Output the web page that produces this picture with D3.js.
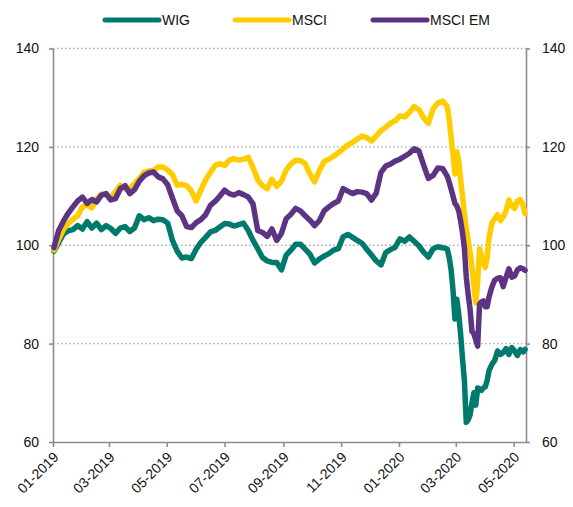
<!DOCTYPE html>
<html><head><meta charset="utf-8">
<script src="https://cdn.jsdelivr.net/npm/d3@7"></script>
<style>body{margin:0;background:#fff}svg{display:block}text{font-family:"Liberation Sans",Arial,sans-serif}</style>
</head><body><svg id="c" width="573" height="507"></svg>
<script>
const dates = [
"2019-01-02","2019-01-07","2019-01-12","2019-01-17","2019-01-22","2019-01-27","2019-02-01","2019-02-06","2019-02-11","2019-02-16",
"2019-02-21","2019-02-26","2019-03-03","2019-03-08","2019-03-13","2019-03-18","2019-03-23","2019-03-28","2019-04-02","2019-04-07",
"2019-04-12","2019-04-17","2019-04-22","2019-04-27","2019-05-02","2019-05-07","2019-05-12","2019-05-17","2019-05-22","2019-05-27",
"2019-06-01","2019-06-06","2019-06-11","2019-06-16","2019-06-21","2019-06-26","2019-07-01","2019-07-06","2019-07-11","2019-07-16",
"2019-07-21","2019-07-26","2019-07-31","2019-08-05","2019-08-10","2019-08-15","2019-08-20","2019-08-25","2019-08-30","2019-09-04",
"2019-09-09","2019-09-14","2019-09-19","2019-09-24","2019-09-29","2019-10-04","2019-10-09","2019-10-14","2019-10-19","2019-10-24",
"2019-10-29","2019-11-03","2019-11-08","2019-11-13","2019-11-18","2019-11-23","2019-11-28","2019-12-03","2019-12-08","2019-12-13",
"2019-12-18","2019-12-23","2019-12-28",
"2020-01-02","2020-01-07","2020-01-12","2020-01-17","2020-01-22","2020-01-27","2020-02-01","2020-02-06","2020-02-11","2020-02-16","2020-02-21",
"2020-02-23","2020-02-25","2020-02-27","2020-02-29","2020-03-02","2020-03-04","2020-03-06","2020-03-08","2020-03-10","2020-03-12","2020-03-14",
"2020-03-16","2020-03-18","2020-03-20","2020-03-22","2020-03-24","2020-03-26","2020-03-28","2020-03-30","2020-04-01","2020-04-03","2020-04-05",
"2020-04-08","2020-04-11","2020-04-14","2020-04-17","2020-04-20","2020-04-23","2020-04-26","2020-04-29","2020-05-02","2020-05-05","2020-05-08","2020-05-11","2020-05-13"
];
const wig = [
98.8,100.5,102.3,102.9,103.2,104.0,103.3,104.8,103.5,104.5,
103.2,104.0,103.4,102.4,103.5,103.8,102.8,103.5,106.0,105.2,
105.6,105.0,105.3,105.2,104.5,101.0,98.8,97.4,97.6,97.3,
99.2,100.6,101.6,102.7,103.0,103.7,104.4,104.3,103.9,104.2,
104.5,103.0,101.0,99.3,97.5,96.8,96.5,96.5,95.0,98.0,
99.0,100.2,100.2,99.2,98.2,96.4,97.2,97.8,98.3,99.0,
99.3,101.7,102.2,101.6,101.0,100.4,99.2,98.0,96.8,96.0,
98.5,99.1,99.6,
101.3,100.8,101.7,100.8,99.9,98.6,97.6,99.3,99.7,99.5,99.2,
97.5,95.0,90.9,85.0,89.0,86.0,82.0,77.0,72.5,64.0,64.5,
65.5,68.0,70.0,67.5,71.0,70.8,70.5,71.0,71.2,72.5,74.5,
75.8,76.6,78.5,77.8,78.2,79.0,77.8,79.2,78.5,77.6,78.8,78.3,78.8
];
const msci = [
99.0,101.2,103.2,104.4,105.3,106.0,107.8,108.2,107.6,109.4,
110.4,110.2,109.6,110.9,112.2,111.5,111.6,112.5,113.6,114.8,
115.1,115.2,115.9,115.9,115.3,114.4,112.2,112.4,112.1,111.0,
109.0,111.2,113.3,114.8,116.2,116.6,116.2,117.3,117.6,117.3,
117.5,117.9,115.8,113.3,112.1,111.5,113.4,112.0,113.0,115.3,
116.5,117.3,117.2,116.6,114.5,112.9,115.2,117.0,117.5,118.1,
118.8,119.6,120.4,120.9,121.6,122.2,121.9,121.2,122.2,123.3,
124.0,124.8,125.3,
126.3,126.1,127.0,128.2,127.6,125.9,124.8,127.7,128.9,129.3,128.2,
125.5,122.0,118.5,114.5,119.0,117.0,113.5,110.0,106.5,103.2,101.0,
98.5,95.5,92.0,88.3,92.5,99.3,98.0,96.8,95.5,97.5,101.5,
104.5,105.4,106.2,105.0,105.8,107.0,109.2,108.0,107.5,109.0,109.3,108.0,106.4
];
const msciEm = [
99.5,103.0,104.9,106.5,107.8,109.0,109.8,108.5,109.3,108.8,
110.2,110.5,109.2,109.5,111.5,112.1,110.5,111.3,113.0,114.1,
114.7,114.9,113.9,113.5,112.3,109.6,107.0,106.0,103.8,103.6,
104.6,105.2,106.2,108.1,108.9,110.0,111.2,110.5,110.2,110.7,
110.3,109.8,108.4,103.0,102.6,101.8,103.3,101.0,102.4,105.4,
106.3,107.5,107.0,106.0,105.1,104.0,105.0,107.0,107.8,108.5,
109.0,111.5,111.0,110.5,110.9,110.8,110.5,109.2,110.6,114.8,
116.1,116.5,117.1,
117.5,118.1,118.7,119.6,119.2,116.3,113.6,114.2,115.7,115.6,114.0,
112.8,111.4,110.0,108.5,108.0,107.0,105.0,102.5,99.5,93.5,90.0,
87.0,82.5,82.0,80.8,79.5,88.0,88.5,88.7,87.5,87.5,89.5,
91.5,92.9,93.3,93.4,91.6,93.5,95.2,93.5,93.8,95.0,95.4,95.2,94.9
];
const seriesNames = ["WIG","MSCI","MSCI EM"];
const seriesColors = ["#007a6c","#ffcc00","#5c3483"];
const yTicks = [60,80,100,120,140];
const gridValues = [80,100,120,140];

const svg = d3.select("#c");
const parse = d3.timeParse("%Y-%m-%d");
const parsedDates = dates.map(parse);
const x = d3.scaleTime().domain([new Date(2019,0,1), new Date(2020,4,14)]).range([53,526]);
const y = d3.scaleLinear().domain([60,140]).range([442,48.5]);
const axisColor = "#8c8c8c";

svg.append("g").selectAll("line").data(gridValues).join("line")
  .attr("x1",x.range()[0]).attr("x2",x.range()[1])
  .attr("y1",d=>y(d)).attr("y2",d=>y(d))
  .attr("stroke","#a9a9b4").attr("stroke-width",1.3).attr("stroke-dasharray","1.5,2.5");

function styleAxis(g){
  g.select(".domain").attr("stroke",axisColor).attr("stroke-width",1.6);
  g.selectAll(".tick line").attr("stroke",axisColor).attr("stroke-width",1.6);
  g.selectAll(".tick text").attr("fill","#111").style("font-size","14px");
}
svg.append("g").attr("transform","translate(53,0)")
  .call(d3.axisLeft(y).tickValues(yTicks).tickSize(4).tickSizeOuter(0).tickPadding(10)).call(styleAxis);
svg.append("g").attr("transform","translate(526,0)")
  .call(d3.axisRight(y).tickValues(yTicks).tickSize(4).tickSizeOuter(0).tickPadding(12)).call(styleAxis);
const gx = svg.append("g").attr("transform","translate(0,442)")
  .call(d3.axisBottom(x).ticks(d3.timeMonth.every(2)).tickFormat(d3.timeFormat("%m-%Y")).tickSize(5).tickSizeOuter(0))
  .call(styleAxis);
gx.selectAll(".tick text").attr("text-anchor","end").attr("x",0).attr("y",0).attr("dy",0)
  .attr("transform","translate(6,16) rotate(-45)");

const seriesData = [wig, msci, msciEm];
const line = d3.line().x((d,i)=>x(parsedDates[i])).y(d=>y(d));
svg.append("g").selectAll("path").data(seriesData).join("path")
  .attr("d",line).attr("fill","none")
  .attr("stroke",(d,i)=>seriesColors[i]).attr("stroke-width",5.5)
  .attr("stroke-linejoin","round").attr("stroke-linecap","round");

const legendX = [105,235,373];
const lg = svg.append("g").selectAll("g").data(seriesNames).join("g")
  .attr("transform",(d,i)=>`translate(${legendX[i]},20)`);
lg.append("line").attr("x1",0).attr("x2",54).attr("y1",0).attr("y2",0)
  .attr("stroke",(d,i)=>seriesColors[i]).attr("stroke-width",5).attr("stroke-linecap","round");
lg.append("text").attr("x",57).attr("y",5).style("font-size","14px").attr("fill","#111").text(d=>d);
</script></body></html>
